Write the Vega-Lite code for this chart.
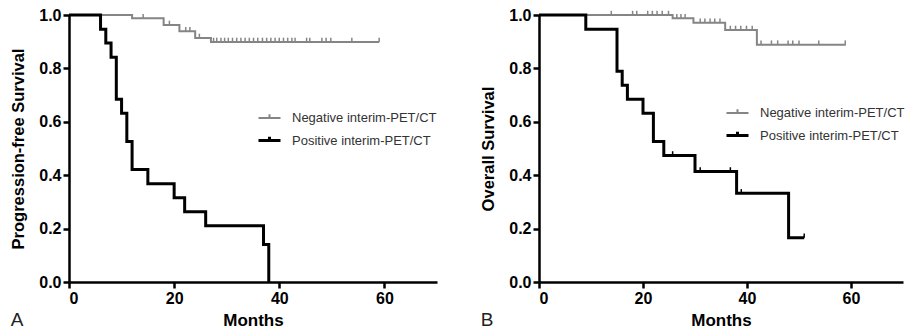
{
  "$schema": "https://vega.github.io/schema/vega-lite/v6.json",
  "padding": {"left": 10, "top": 7, "right": 0, "bottom": 0},
  "background": "white",
  "spacing": 43,
  "datasets": {
    "pfs_curve": [
      {"group": "Negative interim-PET/CT", "months": 0, "surv": 1},
      {"group": "Negative interim-PET/CT", "months": 12, "surv": 0.988},
      {"group": "Negative interim-PET/CT", "months": 18, "surv": 0.963},
      {"group": "Negative interim-PET/CT", "months": 21, "surv": 0.939},
      {"group": "Negative interim-PET/CT", "months": 24, "surv": 0.914},
      {"group": "Negative interim-PET/CT", "months": 27, "surv": 0.899},
      {"group": "Negative interim-PET/CT", "months": 59, "surv": 0.899},
      {"group": "Positive interim-PET/CT", "months": 0, "surv": 1},
      {"group": "Positive interim-PET/CT", "months": 6, "surv": 0.947},
      {"group": "Positive interim-PET/CT", "months": 7, "surv": 0.895},
      {"group": "Positive interim-PET/CT", "months": 8, "surv": 0.842},
      {"group": "Positive interim-PET/CT", "months": 9, "surv": 0.684},
      {"group": "Positive interim-PET/CT", "months": 10, "surv": 0.632},
      {"group": "Positive interim-PET/CT", "months": 11, "surv": 0.526},
      {"group": "Positive interim-PET/CT", "months": 12, "surv": 0.421},
      {"group": "Positive interim-PET/CT", "months": 15, "surv": 0.368},
      {"group": "Positive interim-PET/CT", "months": 20, "surv": 0.316},
      {"group": "Positive interim-PET/CT", "months": 22, "surv": 0.263},
      {"group": "Positive interim-PET/CT", "months": 26, "surv": 0.211},
      {"group": "Positive interim-PET/CT", "months": 37, "surv": 0.14},
      {"group": "Positive interim-PET/CT", "months": 38, "surv": 0}
    ],
    "pfs_cens": [
      {"group": "Negative interim-PET/CT", "months": 14.1, "surv": 0.988},
      {"group": "Negative interim-PET/CT", "months": 19.1, "surv": 0.963},
      {"group": "Negative interim-PET/CT", "months": 22.2, "surv": 0.939},
      {"group": "Negative interim-PET/CT", "months": 23.0, "surv": 0.939},
      {"group": "Negative interim-PET/CT", "months": 24.8, "surv": 0.914},
      {"group": "Negative interim-PET/CT", "months": 27.5, "surv": 0.899},
      {"group": "Negative interim-PET/CT", "months": 28.1, "surv": 0.899},
      {"group": "Negative interim-PET/CT", "months": 28.9, "surv": 0.899},
      {"group": "Negative interim-PET/CT", "months": 29.6, "surv": 0.899},
      {"group": "Negative interim-PET/CT", "months": 30.3, "surv": 0.899},
      {"group": "Negative interim-PET/CT", "months": 31.1, "surv": 0.899},
      {"group": "Negative interim-PET/CT", "months": 31.9, "surv": 0.899},
      {"group": "Negative interim-PET/CT", "months": 32.7, "surv": 0.899},
      {"group": "Negative interim-PET/CT", "months": 33.5, "surv": 0.899},
      {"group": "Negative interim-PET/CT", "months": 34.3, "surv": 0.899},
      {"group": "Negative interim-PET/CT", "months": 35.1, "surv": 0.899},
      {"group": "Negative interim-PET/CT", "months": 35.9, "surv": 0.899},
      {"group": "Negative interim-PET/CT", "months": 36.8, "surv": 0.899},
      {"group": "Negative interim-PET/CT", "months": 37.6, "surv": 0.899},
      {"group": "Negative interim-PET/CT", "months": 38.4, "surv": 0.899},
      {"group": "Negative interim-PET/CT", "months": 39.2, "surv": 0.899},
      {"group": "Negative interim-PET/CT", "months": 40.0, "surv": 0.899},
      {"group": "Negative interim-PET/CT", "months": 40.8, "surv": 0.899},
      {"group": "Negative interim-PET/CT", "months": 41.6, "surv": 0.899},
      {"group": "Negative interim-PET/CT", "months": 42.4, "surv": 0.899},
      {"group": "Negative interim-PET/CT", "months": 43.0, "surv": 0.899},
      {"group": "Negative interim-PET/CT", "months": 45.2, "surv": 0.899},
      {"group": "Negative interim-PET/CT", "months": 45.8, "surv": 0.899},
      {"group": "Negative interim-PET/CT", "months": 48.1, "surv": 0.899},
      {"group": "Negative interim-PET/CT", "months": 48.9, "surv": 0.899},
      {"group": "Negative interim-PET/CT", "months": 49.8, "surv": 0.899},
      {"group": "Negative interim-PET/CT", "months": 53.8, "surv": 0.899},
      {"group": "Negative interim-PET/CT", "months": 59.0, "surv": 0.899}
    ],
    "os_curve": [
      {"group": "Negative interim-PET/CT", "months": 0, "surv": 1},
      {"group": "Negative interim-PET/CT", "months": 25.7, "surv": 0.988},
      {"group": "Negative interim-PET/CT", "months": 29.7, "surv": 0.971},
      {"group": "Negative interim-PET/CT", "months": 35.8, "surv": 0.944},
      {"group": "Negative interim-PET/CT", "months": 41.9, "surv": 0.889},
      {"group": "Negative interim-PET/CT", "months": 59, "surv": 0.889},
      {"group": "Positive interim-PET/CT", "months": 0, "surv": 1},
      {"group": "Positive interim-PET/CT", "months": 9, "surv": 0.947},
      {"group": "Positive interim-PET/CT", "months": 15, "surv": 0.789},
      {"group": "Positive interim-PET/CT", "months": 16, "surv": 0.737},
      {"group": "Positive interim-PET/CT", "months": 17, "surv": 0.684},
      {"group": "Positive interim-PET/CT", "months": 20, "surv": 0.632},
      {"group": "Positive interim-PET/CT", "months": 22, "surv": 0.526},
      {"group": "Positive interim-PET/CT", "months": 24, "surv": 0.474},
      {"group": "Positive interim-PET/CT", "months": 30, "surv": 0.414},
      {"group": "Positive interim-PET/CT", "months": 38, "surv": 0.332},
      {"group": "Positive interim-PET/CT", "months": 48, "surv": 0.166},
      {"group": "Positive interim-PET/CT", "months": 51, "surv": 0.166}
    ],
    "os_cens": [
      {"group": "Negative interim-PET/CT", "months": 13.9, "surv": 1},
      {"group": "Negative interim-PET/CT", "months": 18.0, "surv": 1},
      {"group": "Negative interim-PET/CT", "months": 18.8, "surv": 1},
      {"group": "Negative interim-PET/CT", "months": 20.9, "surv": 1},
      {"group": "Negative interim-PET/CT", "months": 21.8, "surv": 1},
      {"group": "Negative interim-PET/CT", "months": 22.7, "surv": 1},
      {"group": "Negative interim-PET/CT", "months": 23.7, "surv": 1},
      {"group": "Negative interim-PET/CT", "months": 24.9, "surv": 1},
      {"group": "Negative interim-PET/CT", "months": 26.5, "surv": 0.988},
      {"group": "Negative interim-PET/CT", "months": 27.3, "surv": 0.988},
      {"group": "Negative interim-PET/CT", "months": 28.1, "surv": 0.988},
      {"group": "Negative interim-PET/CT", "months": 31.0, "surv": 0.971},
      {"group": "Negative interim-PET/CT", "months": 31.9, "surv": 0.971},
      {"group": "Negative interim-PET/CT", "months": 32.9, "surv": 0.971},
      {"group": "Negative interim-PET/CT", "months": 33.8, "surv": 0.971},
      {"group": "Negative interim-PET/CT", "months": 34.8, "surv": 0.971},
      {"group": "Negative interim-PET/CT", "months": 36.8, "surv": 0.944},
      {"group": "Negative interim-PET/CT", "months": 37.8, "surv": 0.944},
      {"group": "Negative interim-PET/CT", "months": 38.8, "surv": 0.944},
      {"group": "Negative interim-PET/CT", "months": 39.9, "surv": 0.944},
      {"group": "Negative interim-PET/CT", "months": 41.0, "surv": 0.944},
      {"group": "Negative interim-PET/CT", "months": 42.7, "surv": 0.889},
      {"group": "Negative interim-PET/CT", "months": 44.7, "surv": 0.889},
      {"group": "Negative interim-PET/CT", "months": 45.9, "surv": 0.889},
      {"group": "Negative interim-PET/CT", "months": 47.9, "surv": 0.889},
      {"group": "Negative interim-PET/CT", "months": 48.8, "surv": 0.889},
      {"group": "Negative interim-PET/CT", "months": 50.0, "surv": 0.889},
      {"group": "Negative interim-PET/CT", "months": 53.8, "surv": 0.889},
      {"group": "Negative interim-PET/CT", "months": 58.9, "surv": 0.889},
      {"group": "Positive interim-PET/CT", "months": 25.7, "surv": 0.474},
      {"group": "Positive interim-PET/CT", "months": 31.0, "surv": 0.414},
      {"group": "Positive interim-PET/CT", "months": 36.8, "surv": 0.414},
      {"group": "Positive interim-PET/CT", "months": 38.9, "surv": 0.332},
      {"group": "Positive interim-PET/CT", "months": 51, "surv": 0.166}
    ]
  },
  "config": {
    "view": {"stroke": null},
    "font": "Liberation Sans",
    "axis": {
      "grid": false,
      "domainColor": "#000",
      "domainWidth": 2.5,
      "tickColor": "#000",
      "tickWidth": 2.5,
      "tickSize": 6,
      "labelFont": "Liberation Sans",
      "labelFontWeight": "bold",
      "labelFontSize": 16,
      "labelColor": "#000",
      "titleFont": "Liberation Sans",
      "titleFontWeight": "bold",
      "titleColor": "#000"
    },
    "axisX": {"labelPadding": 2, "titleFontSize": 17, "titlePadding": 6},
    "axisY": {"labelPadding": 2, "titleFontSize": 16.5, "titlePadding": 12},
    "title": {"font": "Liberation Sans", "fontWeight": "normal", "fontSize": 19, "color": "#222"},
    "legend": {
      "orient": "none",
      "title": null,
      "labelFont": "Liberation Sans",
      "labelFontSize": 13,
      "labelColor": "#333",
      "labelOffset": 10,
      "rowPadding": 3,
      "symbolType": "M-1,0H1M0,0V-0.35",
      "symbolSize": 484,
      "symbolFillColor": "transparent"
    }
  },
  "resolve": {
    "scale": {"stroke": "independent", "strokeWidth": "independent"},
    "legend": {"stroke": "independent", "strokeWidth": "independent"}
  },
  "hconcat": [
    {
      "width": 368,
      "height": 267,
      "title": {"text": "A", "orient": "bottom", "anchor": "start", "frame": "bounds", "offset": -17},
      "layer": [
        {
          "data": {"name": "pfs_curve"},
          "mark": {"type": "line", "interpolate": "step-after"},
          "encoding": {
            "x": {"field": "months", "type": "quantitative", "scale": {"domain": [0, 70]}, "axis": {"values": [0, 20, 40, 60], "title": "Months"}},
            "y": {"field": "surv", "type": "quantitative", "scale": {"domain": [0, 1]}, "axis": {"values": [0, 0.2, 0.4, 0.6, 0.8, 1], "format": ".1f", "title": "Progression-free Survival"}},
            "stroke": {"field": "group", "type": "nominal", "scale": {"domain": ["Negative interim-PET/CT", "Positive interim-PET/CT"], "range": ["#858585", "#000000"]}, "legend": {"legendX": 188, "legendY": 91}},
            "strokeWidth": {"field": "group", "type": "nominal", "scale": {"domain": ["Negative interim-PET/CT", "Positive interim-PET/CT"], "range": [2, 3]}, "legend": {"legendX": 188, "legendY": 91}}
          }
        },
        {
          "data": {"name": "pfs_cens"},
          "mark": {"type": "point", "shape": "M0,0L0,-1", "filled": false, "size": 72, "strokeWidth": 1.5, "opacity": 1},
          "encoding": {
            "x": {"field": "months", "type": "quantitative"},
            "y": {"field": "surv", "type": "quantitative"},
            "stroke": {"field": "group", "type": "nominal"}
          }
        }
      ]
    },
    {
      "width": 364,
      "height": 267,
      "title": {"text": "B", "orient": "bottom", "anchor": "start", "frame": "bounds", "offset": -17},
      "layer": [
        {
          "data": {"name": "os_curve"},
          "mark": {"type": "line", "interpolate": "step-after"},
          "encoding": {
            "x": {"field": "months", "type": "quantitative", "scale": {"domain": [0, 70]}, "axis": {"values": [0, 20, 40, 60], "title": "Months"}},
            "y": {"field": "surv", "type": "quantitative", "scale": {"domain": [0, 1]}, "axis": {"values": [0, 0.2, 0.4, 0.6, 0.8, 1], "format": ".1f", "title": "Overall Survival"}},
            "stroke": {"field": "group", "type": "nominal", "scale": {"domain": ["Negative interim-PET/CT", "Positive interim-PET/CT"], "range": ["#858585", "#000000"]}, "legend": {"legendX": 186, "legendY": 86}},
            "strokeWidth": {"field": "group", "type": "nominal", "scale": {"domain": ["Negative interim-PET/CT", "Positive interim-PET/CT"], "range": [2, 3]}, "legend": {"legendX": 186, "legendY": 86}}
          }
        },
        {
          "data": {"name": "os_cens"},
          "mark": {"type": "point", "shape": "M0,0L0,-1", "filled": false, "size": 72, "strokeWidth": 1.5, "opacity": 1},
          "encoding": {
            "x": {"field": "months", "type": "quantitative"},
            "y": {"field": "surv", "type": "quantitative"},
            "stroke": {"field": "group", "type": "nominal"}
          }
        }
      ]
    }
  ]
}
